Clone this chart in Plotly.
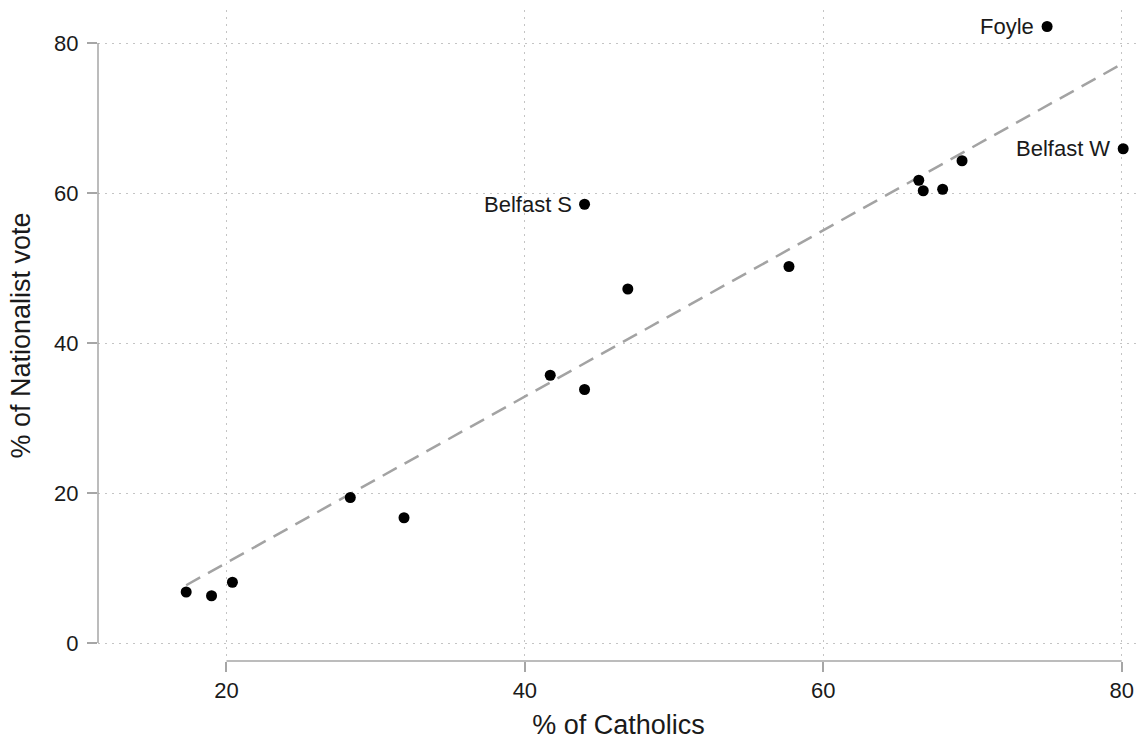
import plotly.graph_objects as go

# Data
catholics = [17.3, 19.0, 20.4, 28.3, 31.9, 41.7, 44.0, 44.0, 46.9, 57.7,
             66.4, 66.7, 68.0, 69.3, 75.0, 80.1]
nationalist = [6.8, 6.3, 8.1, 19.4, 16.7, 35.7, 33.8, 58.5, 47.2, 50.2,
               61.7, 60.3, 60.5, 64.3, 82.2, 65.9]
labels = ["", "", "", "", "", "", "", "Belfast S", "", "",
          "", "", "", "", "Foyle", "Belfast W"]

fit_x = [17.3, 80.1]
fit_y = [7.7, 77.3]

x_ticks = [20, 40, 60, 80]
y_ticks = [0, 20, 40, 60, 80]

FONT = "Liberation Sans, Arial, sans-serif"
AXIS_GREY = "#a6a6a6"
GRID_GREY = "#c4c4c4"
TEXT = "#1a1a1a"

fig = go.Figure()

fig.add_trace(go.Scatter(
    x=fit_x, y=fit_y, mode="lines",
    line=dict(color="#a3a3a3", width=2.5, dash="16px,9px"),
    hoverinfo="skip", showlegend=False,
))

fig.add_trace(go.Scatter(
    x=catholics, y=nationalist, mode="markers",
    marker=dict(color="black", size=11),
    showlegend=False,
))

for xv, yv, lab in zip(catholics, nationalist, labels):
    if lab:
        fig.add_annotation(
            x=xv, y=yv, text=lab, showarrow=False,
            xanchor="right", yanchor="middle", xshift=-11,
            font=dict(family=FONT, size=22, color=TEXT),
        )

# Range-frame axis lines
fig.add_shape(type="line", xref="paper", yref="y", x0=0, x1=0,
              y0=y_ticks[0], y1=y_ticks[-1],
              line=dict(color=AXIS_GREY, width=1.5))
fig.add_shape(type="line", xref="x", yref="paper", y0=0, y1=0,
              x0=x_ticks[0], x1=x_ticks[-1],
              line=dict(color=AXIS_GREY, width=1.5))

fig.update_xaxes(
    range=[11.39, 81.16], tickvals=x_ticks, ticktext=[str(v) for v in x_ticks],
    showline=False, zeroline=False,
    showgrid=True, gridcolor=GRID_GREY, griddash="2px,5px", gridwidth=1,
    ticks="outside", ticklen=10, tickwidth=1.5, tickcolor=AXIS_GREY,
    tickfont=dict(family=FONT, size=22, color=TEXT),
    title=dict(text="% of Catholics", font=dict(family=FONT, size=27, color=TEXT),
               standoff=14),
)
fig.update_yaxes(
    range=[-2.4, 84.4], tickvals=y_ticks, ticktext=[str(v) for v in y_ticks],
    showline=False, zeroline=False,
    showgrid=True, gridcolor=GRID_GREY, griddash="2px,5px", gridwidth=1,
    ticks="outside", ticklen=10, tickwidth=1.5, tickcolor=AXIS_GREY,
    tickfont=dict(family=FONT, size=22, color=TEXT),
    ticklabelstandoff=4,
    title=dict(text="% of Nationalist vote", font=dict(family=FONT, size=27, color=TEXT),
               standoff=15),
)

fig.update_layout(
    width=1139, height=740,
    margin=dict(l=98, r=0, t=10, b=79),
    plot_bgcolor="white", paper_bgcolor="white",
    font=dict(family=FONT),
    hovermode=False,
)

# Remove the default page margin so the figure fills the window exactly.
fig.write_html(
    "out.html",
    config={"displayModeBar": False},
    post_script="document.body.style.margin='0';document.body.style.overflow='hidden';",
)
